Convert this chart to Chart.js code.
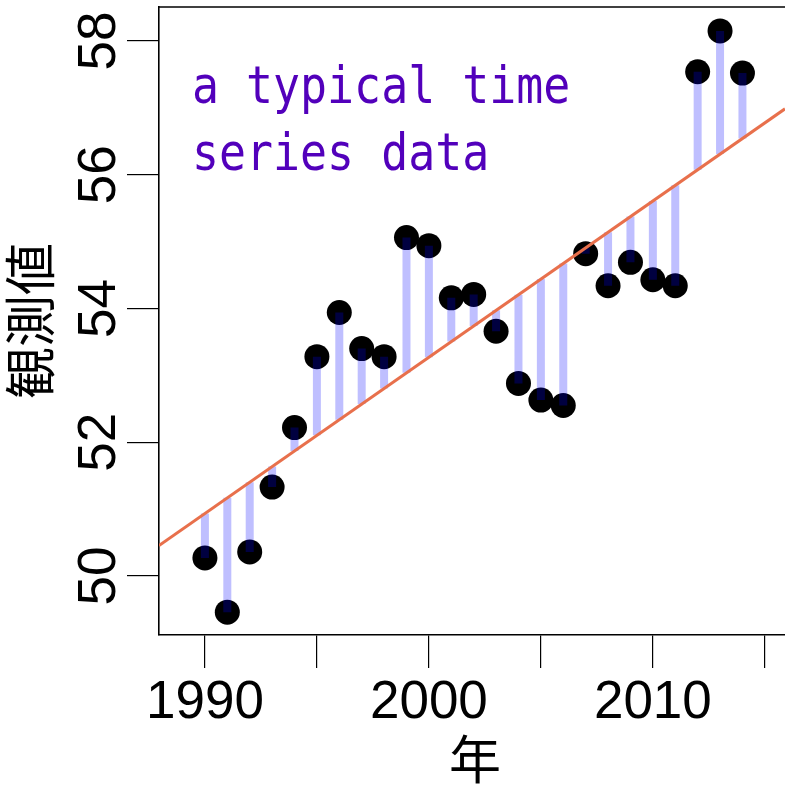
<!DOCTYPE html>
<html>
<head>
<meta charset="utf-8">
<script src="https://cdn.jsdelivr.net/npm/chart.js@4/dist/chart.umd.min.js"></script>
<style>
  html, body { margin: 0; padding: 0; background: #ffffff; }
  #c { display: block; }
</style>
</head>
<body>
<canvas id="c" width="785" height="787"></canvas>
<script>
// ---- data ----
const years = [1990, 1991, 1992, 1993, 1994, 1995, 1996, 1997, 1998, 1999,
               2000, 2001, 2002, 2003, 2004, 2005, 2006, 2007, 2008, 2009,
               2010, 2011, 2012, 2013, 2014];
const values = [50.27, 49.46, 50.36, 51.33, 52.22, 53.28, 53.94, 53.40, 53.28, 55.06,
                54.94, 54.16, 54.21, 53.66, 52.88, 52.63, 52.55, 54.82, 54.34, 54.69,
                54.43, 54.34, 57.54, 58.15, 57.52];
const xTickValues = [1990, 1995, 2000, 2005, 2010, 2015];
const xTickLabels = ['1990', '', '2000', '', '2010', ''];
const yTickValues = [50, 52, 54, 56, 58];
const yTickLabels = ['50', '52', '54', '56', '58'];
const xRange = [1987.95, 2015.9];
const yRange = [49.118, 58.508];
const xTitle = '年';
const yTitle = '観測値';
const noteLines = ['a typical time', 'series data'];

// ---- least squares fit of values on years ----
const n = years.length;
const mx = years.reduce((a, b) => a + b, 0) / n;
const my = values.reduce((a, b) => a + b, 0) / n;
let sxy = 0, sxx = 0;
for (let i = 0; i < n; i++) { sxy += (years[i] - mx) * (values[i] - my); sxx += (years[i] - mx) ** 2; }
const slope = sxy / sxx;
const intercept = my - slope * mx;
const fit = (x) => intercept + slope * x;

const pointData = years.map((x, i) => ({ x: x, y: values[i] }));
const residData = [];
years.forEach((x, i) => {
  residData.push({ x: x, y: values[i] });
  residData.push({ x: x, y: fit(x) });
  residData.push({ x: x, y: null });
});
const fitData = xRange.map(x => ({ x: x, y: fit(x) }));

const SANS = '"Liberation Sans", Arial, Helvetica, sans-serif';
const CJK = '"Noto Sans CJK JP", "Noto Sans CJK SC", sans-serif';
const MONO = '"DejaVu Sans Mono", "Liberation Mono", monospace';

const textPlugin = {
  id: 'texts',
  afterDraw(chart) {
    const ctx = chart.ctx;
    const xs = chart.scales.x, ys = chart.scales.y, ca = chart.chartArea;
    ctx.save();
    // top frame line
    ctx.strokeStyle = '#000';
    ctx.lineWidth = 1.6;
    ctx.beginPath();
    ctx.moveTo(ca.left, ca.top);
    ctx.lineTo(ca.right, ca.top);
    ctx.stroke();

    ctx.fillStyle = '#000';
    // x tick labels
    ctx.font = '53px ' + SANS;
    ctx.textAlign = 'center';
    ctx.textBaseline = 'alphabetic';
    xTickValues.forEach((v, i) => {
      if (xTickLabels[i]) ctx.fillText(xTickLabels[i], xs.getPixelForValue(v), 718);
    });
    // y tick labels (rotated)
    yTickValues.forEach((v, i) => {
      ctx.save();
      ctx.translate(115, ys.getPixelForValue(v));
      ctx.rotate(-Math.PI / 2);
      ctx.fillText(yTickLabels[i], 0, 0);
      ctx.restore();
    });
    // x title
    ctx.font = '52px ' + CJK;
    let m = ctx.measureText(xTitle);
    ctx.fillText(xTitle, 475, 759 + (m.actualBoundingBoxAscent - m.actualBoundingBoxDescent) / 2);
    // y title
    m = ctx.measureText(yTitle);
    ctx.save();
    ctx.translate(29.5, 321);
    ctx.rotate(-Math.PI / 2);
    ctx.fillText(yTitle, 0, (m.actualBoundingBoxAscent - m.actualBoundingBoxDescent) / 2);
    ctx.restore();

    // annotation text
    ctx.fillStyle = '#5200bb';
    ctx.font = '51px ' + MONO;
    ctx.textAlign = 'left';
    const baselines = [103, 169.5];
    noteLines.forEach((t, i) => {
      ctx.save();
      ctx.translate(192, baselines[i]);
      ctx.scale(0.88, 1);
      ctx.fillText(t, 0, 0);
      ctx.restore();
    });
    ctx.restore();
  }
};

new Chart(document.getElementById('c'), {
  type: 'scatter',
  data: {
    datasets: [
      {
        label: 'fit',
        type: 'line',
        data: fitData,
        borderColor: '#e8704c',
        borderWidth: 3,
        pointRadius: 0,
        fill: false,
        order: 0
      },
      {
        label: 'residuals',
        type: 'line',
        data: residData,
        borderColor: 'rgba(0,0,255,0.25)',
        borderWidth: 8,
        borderCapStyle: 'butt',
        pointRadius: 0,
        spanGaps: false,
        fill: false,
        order: 1
      },
      {
        label: 'observed',
        data: pointData,
        backgroundColor: '#000',
        borderWidth: 0,
        pointRadius: 12.5,
        pointHoverRadius: 12.5,
        order: 2
      }
    ]
  },
  options: {
    responsive: false,
    animation: false,
    devicePixelRatio: 1,
    layout: { autoPadding: false, padding: { left: 0, top: 7, right: 0, bottom: 0 } },
    plugins: { legend: { display: false }, tooltip: { enabled: false } },
    events: [],
    scales: {
      x: {
        type: 'linear',
        position: 'bottom',
        min: xRange[0],
        max: xRange[1],
        afterBuildTicks: (s) => { s.ticks = xTickValues.map(v => ({ value: v })); },
        afterFit: (s) => { s.height = 152; },
        ticks: { display: false },
        grid: { display: true, drawOnChartArea: false, drawTicks: true, tickLength: 33, color: '#000', lineWidth: 1.2 },
        border: { display: true, color: '#000', width: 1.6 }
      },
      y: {
        type: 'linear',
        position: 'left',
        min: yRange[0],
        max: yRange[1],
        afterBuildTicks: (s) => { s.ticks = yTickValues.map(v => ({ value: v })); },
        afterFit: (s) => { s.width = 159; },
        ticks: { display: false },
        grid: { display: true, drawOnChartArea: false, drawTicks: true, tickLength: 32, color: '#000', lineWidth: 1.2 },
        border: { display: true, color: '#000', width: 1.6 }
      }
    }
  },
  plugins: [textPlugin]
});
</script>
</body>
</html>
